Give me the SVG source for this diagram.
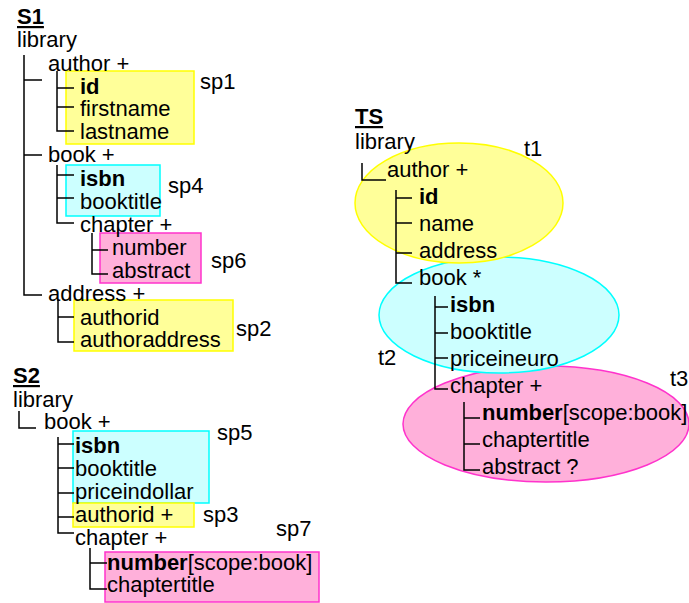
<svg xmlns="http://www.w3.org/2000/svg" width="689" height="603" viewBox="0 0 689 603">
  <style>
    text { font-family: "Liberation Sans", Arial, sans-serif; font-size: 22px; fill: #000; }
    .b { font-weight: bold; }
    .ttl { font-weight: bold; text-decoration: underline; }
    .ln { stroke: #000; stroke-width: 1.5; fill: none; }
    .yel { fill: #FFFF99; stroke: #FFFF00; stroke-width: 1.5; }
    .cya { fill: #CCFFFF; stroke: #00FFFF; stroke-width: 1.5; }
    .pnk { fill: #FFB0DA; stroke: #FF33CC; stroke-width: 1.5; }
  </style>

  <!-- Schema S1 -->
  <g id="s1">
    <rect id="sp1" class="yel" x="66" y="71" width="128" height="73"/>
    <rect id="sp4" class="cya" x="66" y="165" width="94" height="51"/>
    <rect id="sp6" class="pnk" x="100" y="233" width="101" height="50"/>
    <rect id="sp2" class="yel" x="74" y="300" width="159" height="51"/>
    <text class="ttl" x="17" y="24">S1</text>
    <text x="17" y="47">library</text>
    <text x="48" y="71">author +</text>
    <text class="b" x="80" y="94">id</text>
    <text x="80" y="116">firstname</text>
    <text x="80" y="139">lastname</text>
    <text x="48" y="162">book +</text>
    <text class="b" x="80" y="186">isbn</text>
    <text x="80" y="209">booktitle</text>
    <text x="80" y="232">chapter +</text>
    <text x="112" y="255">number</text>
    <text x="112" y="278">abstract</text>
    <text x="48" y="301">address +</text>
    <text x="80" y="325">authorid</text>
    <text x="80" y="347">authoraddress</text>
    <text x="200" y="89">sp1</text>
    <text x="168" y="193">sp4</text>
    <text x="211" y="268">sp6</text>
    <text x="236" y="336">sp2</text>
  </g>

  <!-- Schema S2 -->
  <g id="s2">
    <rect id="sp5" class="cya" x="73" y="431" width="136" height="72"/>
    <rect id="sp3" class="yel" x="73" y="503" width="121" height="24"/>
    <rect id="sp7" class="pnk" x="105" y="552" width="214" height="50"/>
    <text class="ttl" x="13" y="383">S2</text>
    <text x="13" y="407">library</text>
    <text x="44" y="429">book +</text>
    <text class="b" x="75" y="453">isbn</text>
    <text x="75" y="476">booktitle</text>
    <text x="75" y="499">priceindollar</text>
    <text x="75" y="522">authorid +</text>
    <text x="75" y="545">chapter +</text>
    <text x="107" y="570"><tspan class="b">number</tspan>[scope:book]</text>
    <text x="107" y="592">chaptertitle</text>
    <text x="217" y="440">sp5</text>
    <text x="203" y="522">sp3</text>
    <text x="276" y="536">sp7</text>
  </g>

  <!-- Target schema TS -->
  <g id="ts">
    <ellipse id="t3" class="pnk" cx="546" cy="424" rx="143" ry="58"/>
    <ellipse id="t2" class="cya" cx="499" cy="315" rx="120" ry="58"/>
    <ellipse id="t1" class="yel" cx="459" cy="203" rx="104" ry="60"/>
    <text class="ttl" x="355" y="124">TS</text>
    <text x="355" y="149">library</text>
    <text x="387" y="177">author +</text>
    <text class="b" x="419" y="204">id</text>
    <text x="419" y="231">name</text>
    <text x="419" y="258">address</text>
    <text x="419" y="285">book *</text>
    <text class="b" x="450" y="312">isbn</text>
    <text x="450" y="339">booktitle</text>
    <text x="450" y="366">priceineuro</text>
    <text x="450" y="393">chapter +</text>
    <text x="482" y="420"><tspan class="b">number</tspan>[scope:book]</text>
    <text x="482" y="447">chaptertitle</text>
    <text x="482" y="474">abstract ?</text>
    <text x="524" y="156">t1</text>
    <text x="378" y="365">t2</text>
    <text x="670" y="386">t3</text>
  </g>

  <!-- Tree connectors -->
  <g id="connectors" class="ln">
    <!-- S1 -->
    <path d="M24 55 V295 H42 M24 80 H42 M24 155 H42"/>
    <path d="M57 71 V131 H74 M57 88 H74 M57 107 H74"/>
    <path d="M57 165 V223 H74 M57 175 H74 M57 198 H74"/>
    <path d="M92 233 V274 H108 M92 250 H108"/>
    <path d="M58 300 V342 H74 M58 317 H74"/>
    <!-- S2 -->
    <path d="M19 411 V428 H36"/>
    <path d="M58 437 V533 H74 M58 444 H74 M58 468 H74 M58 493 H74 M58 517 H74"/>
    <path d="M90 548 V589 H107 M90 563 H107"/>
    <!-- TS -->
    <path d="M362 163 V180 H386"/>
    <path d="M396 190 V283 H412 M396 198 H412 M396 223 H412 M396 253 H412"/>
    <path d="M435 296 V389 H448 M435 307 H448 M435 333 H448 M435 358 H448"/>
    <path d="M464 402 V470 H480 M464 418 H480 M464 444 H480"/>
  </g>
</svg>
